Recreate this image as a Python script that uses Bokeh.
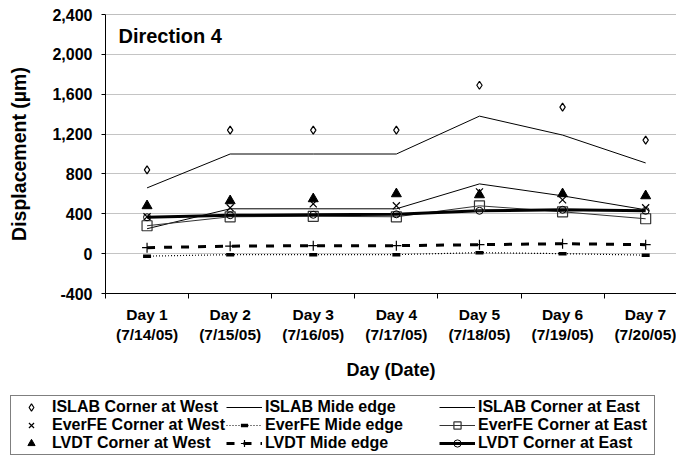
from bokeh.plotting import figure
from bokeh.models import (Range1d, FixedTicker, NumeralTickFormatter, Legend,
                          LegendItem, Label, Span)
from bokeh.embed import file_html
from bokeh.resources import INLINE

# Day index and the dated tick labels shown under each category
days = [1, 2, 3, 4, 5, 6, 7]
day_labels = ["Day 1\n(7/14/05)", "Day 2\n(7/15/05)", "Day 3\n(7/16/05)",
              "Day 4\n(7/17/05)", "Day 5\n(7/18/05)", "Day 6\n(7/19/05)",
              "Day 7\n(7/20/05)"]
y_ticks = [-400, 0, 400, 800, 1200, 1600, 2000, 2400]

# Displacement series (micrometres)
islab_west = [840, 1240, 1240, 1240, 1690, 1470, 1140]
islab_mid = [660, 1000, 1000, 1000, 1380, 1190, 910]
islab_east = [250, 450, 450, 450, 700, 580, 440]
everfe_west = [370, 460, 500, 480, 620, 540, 460]
everfe_mid = [-25, -10, -10, -10, 10, 0, -15]
everfe_east = [280, 370, 375, 370, 480, 420, 350]
lvdt_west = [480, 530, 550, 600, 590, 600, 580]
lvdt_mid = [60, 75, 80, 80, 90, 100, 90]
lvdt_east = [365, 385, 390, 395, 430, 440, 430]

FONT = "Liberation Sans"

# series name -> (values, line style or None, marker style or None)
STYLES = {
    "ISLAB Corner at West": (islab_west, None,
        dict(marker="diamond", size=8, fill_color="white", line_color="black", line_width=1.2)),
    "ISLAB Mide edge": (islab_mid, dict(line_color="black", line_width=1), None),
    "ISLAB Corner at East": (islab_east, dict(line_color="black", line_width=1), None),
    "EverFE Corner at West": (everfe_west, None,
        dict(marker="x", size=10, line_color="black", line_width=1.2)),
    "EverFE Mide edge": (everfe_mid,
        dict(line_color="black", line_width=1.2, line_dash="1 2"),
        dict(marker="dash", size=8, line_color="black", line_width=3.5)),
    "EverFE Corner at East": (everfe_east,
        dict(line_color="#333333", line_width=1),
        dict(marker="square", size=10, fill_color="white", fill_alpha=0.0,
             line_color="#333333", line_width=1.2)),
    "LVDT Corner at West": (lvdt_west, None,
        dict(marker="triangle", size=10, fill_color="black", line_color="black")),
    "LVDT Mide edge": (lvdt_mid,
        dict(line_color="black", line_width=3, line_dash="8 9"),
        dict(marker="cross", size=10, line_color="black", line_width=1.2)),
    "LVDT Corner at East": (lvdt_east,
        dict(line_color="black", line_width=3),
        dict(marker="circle", size=7, fill_color="white", fill_alpha=0.0,
             line_color="black", line_width=1)),
}
ORDER = list(STYLES.keys())


def draw_series(fig):
    """Draw all nine series on fig; return {name: [renderers]}."""
    out = {name: [] for name in ORDER}
    for name in ORDER:  # lines underneath
        vals, line_kw, _ = STYLES[name]
        if line_kw:
            out[name].append(fig.line(days, vals, **line_kw))
    for name in ORDER:  # markers on top
        vals, _, mark_kw = STYLES[name]
        if mark_kw:
            out[name].append(fig.scatter(days, vals, **mark_kw))
    return out


# ---------------- main chart ----------------
p = figure(width=676, height=395, output_backend="svg", toolbar_location=None,
           x_range=Range1d(0.5, 7.371), y_range=Range1d(-400, 2400),
           min_border_left=105, min_border_right=0, min_border_top=14,
           min_border_bottom=102)
p.title.visible = False
p.outline_line_color = None
p.background_fill_color = "white"
p.border_fill_color = "white"

# category axis: labels at the centres, tick marks between categories
p.xaxis.ticker = FixedTicker(ticks=days, minor_ticks=[d - 0.5 for d in days] + [7.5])
p.xaxis.major_label_overrides = {d: lab for d, lab in zip(days, day_labels)}
p.xaxis.major_tick_out = 0
p.xaxis.major_tick_in = 0
p.xaxis.minor_tick_out = 5
p.xaxis.minor_tick_in = 0
p.xaxis.minor_tick_line_color = "black"
p.xaxis.axis_line_color = "black"
p.xaxis.major_label_standoff = 7
p.xaxis.major_label_text_font = FONT
p.xaxis.major_label_text_font_style = "bold"
p.xaxis.major_label_text_font_size = "15.5px"
p.xaxis.major_label_text_color = "black"
p.xaxis.axis_label = "Day (Date)"
p.xaxis.axis_label_text_font = FONT
p.xaxis.axis_label_text_font_style = "bold"
p.xaxis.axis_label_text_font_size = "18px"
p.xaxis.axis_label_text_color = "black"
p.xaxis.axis_label_standoff = 14

p.yaxis.ticker = FixedTicker(ticks=y_ticks)
p.yaxis.formatter = NumeralTickFormatter(format="0,0")
p.yaxis.major_tick_out = 4
p.yaxis.major_tick_in = 0
p.yaxis.minor_tick_out = 0
p.yaxis.minor_tick_in = 0
p.yaxis.axis_line_color = "black"
p.yaxis.major_label_standoff = 9
p.yaxis.major_label_text_font = FONT
p.yaxis.major_label_text_font_style = "bold"
p.yaxis.major_label_text_font_size = "16px"
p.yaxis.major_label_text_color = "black"
p.yaxis.axis_label = "Displacement (µm)"
p.yaxis.axis_label_text_font = FONT
p.yaxis.axis_label_text_font_style = "bold"
p.yaxis.axis_label_text_font_size = "19.5px"
p.yaxis.axis_label_text_color = "black"
p.yaxis.axis_label_standoff = 19

p.xgrid.visible = False
p.ygrid.ticker = FixedTicker(ticks=y_ticks[:-1])
p.ygrid.grid_line_color = "#c4c4c4"
p.ygrid.grid_line_width = 1
p.add_layout(Span(location=2400, dimension="width", line_color="#808080", line_width=1))

draw_series(p)

p.add_layout(Label(x=0.656, y=2290, text="Direction 4", text_font=FONT,
                   text_font_style="bold", text_font_size="20px",
                   text_baseline="top", text_color="black"))

# ---------------- legend strip (separate root, full-width frame) ----------------
leg_fig = figure(width=676, height=64, output_backend="svg", toolbar_location=None,
                 x_range=Range1d(100, 101), y_range=Range1d(100, 101),
                 x_axis_location=None, y_axis_location=None,
                 min_border_left=0, min_border_right=0, min_border_top=0,
                 min_border_bottom=0)
leg_fig.title.visible = False
leg_fig.outline_line_color = None
leg_fig.grid.visible = False
leg_fig.background_fill_color = "white"
leg_fig.border_fill_color = "white"

leg_renderers = draw_series(leg_fig)
items = [LegendItem(label=name, renderers=leg_renderers[name]) for name in ORDER]
legend = Legend(items=items, orientation="horizontal", ncols=3,
                location=(10, 4), glyph_width=36, glyph_height=18,
                label_height=18, label_width=174, label_standoff=3,
                spacing=0, padding=2, margin=0,
                border_line_color="black", border_line_width=1,
                background_fill_color="white", background_fill_alpha=1.0,
                label_text_font=FONT, label_text_font_style="bold",
                label_text_font_size="16px", label_text_color="black")
leg_fig.add_layout(legend)

open("out.html", "w").write(file_html([p, leg_fig], INLINE))
